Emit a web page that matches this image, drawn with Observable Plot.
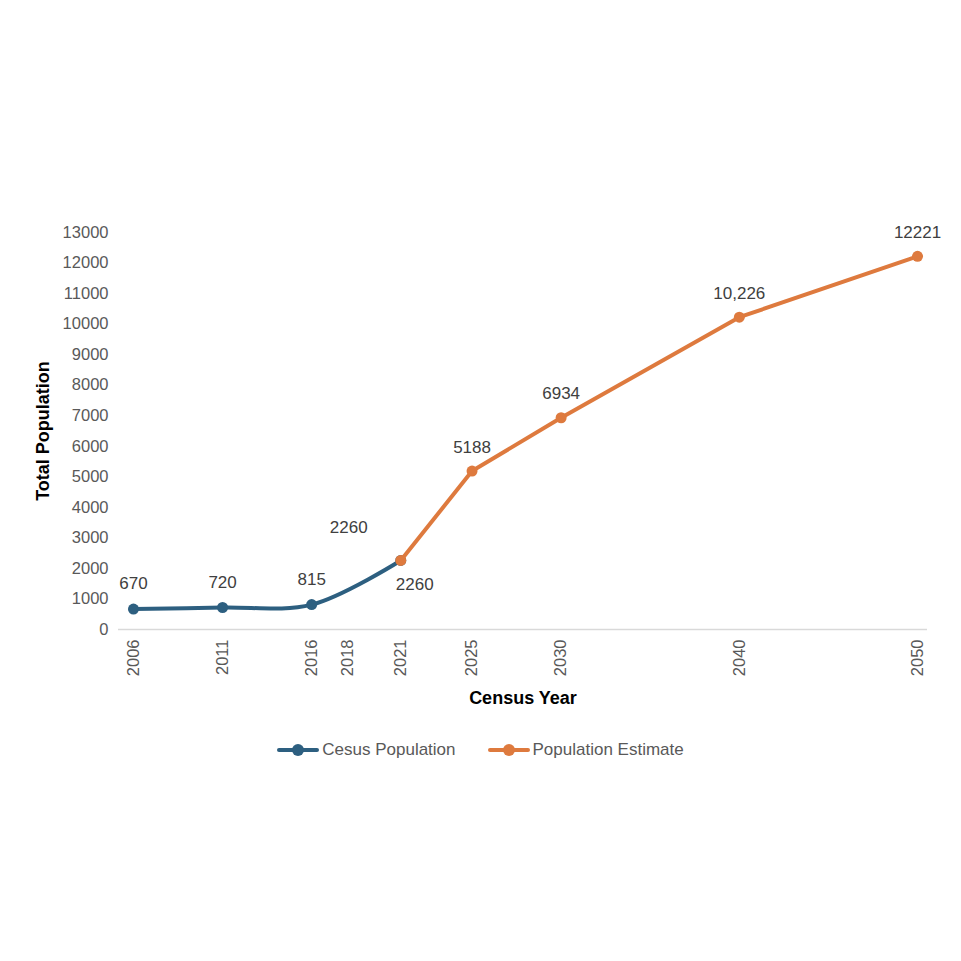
<!DOCTYPE html>
<html>
<head>
<meta charset="utf-8">
<script src="https://cdn.jsdelivr.net/npm/d3@7"></script>
<script src="https://cdn.jsdelivr.net/npm/@observablehq/plot@0.6"></script>
<style>
  html, body { margin: 0; padding: 0; background: #fff; }
  #wrap { position: relative; width: 961px; height: 961px; font-family: "Liberation Sans", Arial, sans-serif; }
  #chart svg [aria-label="x-axis label"] text,
  #chart svg [aria-label="y-axis label"] text { font-weight: bold; fill: #000; font-size: 18px; }
  #legend { position: absolute; top: 739px; left: 0; width: 961px; display: flex; justify-content: center; gap: 32px;
            font-size: 17px; color: #595959; padding-left: 0; box-sizing: border-box; }
  .item { display: flex; align-items: center; gap: 3px; }
  .swatch { position: relative; width: 42px; height: 22px; }
  .swatch .ln { position: absolute; left: 0; right: 0; top: 9px; height: 4px; border-radius: 2px; }
  .swatch .pt { position: absolute; left: 15px; top: 5px; width: 12px; height: 12px; border-radius: 50%; }
</style>
</head>
<body>
<div id="wrap">
  <div id="chart"></div>
  <div id="legend"></div>
</div>
<script>
// Census counts and projected population
const censusYears = [2006, 2011, 2016, 2021];
const censusPop = [670, 720, 815, 2260];
const censusLabels = ["670", "720", "815", "2260"];

const estimateYears = [2021, 2025, 2030, 2040, 2050];
const estimatePop = [2260, 5188, 6934, 10226, 12221];
const estimateLabels = ["2260", "5188", "6934", "10,226", "12221"];

const xTickYears = [2006, 2011, 2016, 2018, 2021, 2025, 2030, 2040, 2050];
const yTickValues = [0, 1000, 2000, 3000, 4000, 5000, 6000, 7000, 8000, 9000, 10000, 11000, 12000, 13000];

const seriesNames = ["Cesus Population", "Population Estimate"];
const blue = "#2D5F80";
const orange = "#DE7A3E";

const census = censusYears.map((year, i) => ({year, pop: censusPop[i], label: censusLabels[i]}));
const estimate = estimateYears.map((year, i) => ({year, pop: estimatePop[i], label: estimateLabels[i]}));

const last = census.length - 1;
const labelStyle = {fill: "#404040", fontSize: 17};

const chart = Plot.plot({
  width: 961,
  height: 720,
  marginTop: 232,
  marginBottom: 91,
  marginLeft: 118,
  marginRight: 34,
  style: {fontFamily: "'Liberation Sans', Arial, sans-serif", fontSize: "16.5px", color: "#595959", background: "transparent"},
  x: {domain: [2005.16, 2050.56]},
  y: {domain: [0, 13000]},
  marks: [
    Plot.axisY({ticks: yTickValues, tickFormat: d => String(d), tickSize: 0, tickPadding: 10,
                label: "Total Population", labelAnchor: "center", labelArrow: "none", labelOffset: 82}),
    Plot.axisX({ticks: xTickYears, tickFormat: d => String(d), tickRotate: -90, tickSize: 0, tickPadding: 10,
                label: "Census Year", labelAnchor: "center", labelArrow: "none", labelOffset: 74}),
    Plot.ruleY([0], {stroke: "#d9d9d9", strokeWidth: 1.5}),
    Plot.line(census, {x: "year", y: "pop", stroke: blue, strokeWidth: 4, curve: "catmull-rom"}),
    Plot.dot(census, {x: "year", y: "pop", r: 5.5, fill: blue}),
    Plot.line(estimate, {x: "year", y: "pop", stroke: orange, strokeWidth: 4}),
    Plot.dot(estimate, {x: "year", y: "pop", r: 5.5, fill: orange}),
    // value labels: above each point, the two 2021 labels set aside
    Plot.text(census.slice(0, last), {x: "year", y: "pop", text: "label", dy: -25, ...labelStyle}),
    Plot.text(census.slice(last), {x: "year", y: "pop", text: "label", dx: -52, dy: -33, ...labelStyle}),
    Plot.text(estimate.slice(0, 1), {x: "year", y: "pop", text: "label", dx: 14, dy: 24, ...labelStyle}),
    Plot.text(estimate.slice(1), {x: "year", y: "pop", text: "label", dy: -24, ...labelStyle})
  ]
});
document.getElementById("chart").appendChild(chart);

const legend = document.getElementById("legend");
[[seriesNames[0], blue], [seriesNames[1], orange]].forEach(([name, color]) => {
  const item = document.createElement("div");
  item.className = "item";
  item.innerHTML = `<div class="swatch"><div class="ln" style="background:${color}"></div><div class="pt" style="background:${color}"></div></div><span>${name}</span>`;
  legend.appendChild(item);
});
</script>
</body>
</html>
